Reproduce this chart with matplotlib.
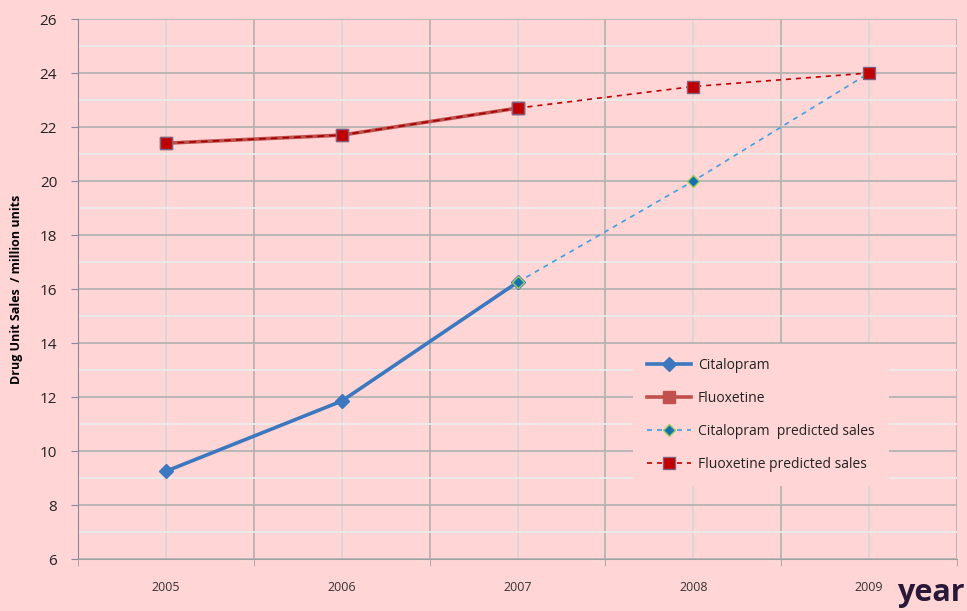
import numpy as np
import matplotlib
matplotlib.use("Agg")
import matplotlib.pyplot as plt
from matplotlib.ticker import MultipleLocator

plt.rcParams['font.family'] = ['Open Sans', 'DejaVu Sans']

years = ['2005', '2006', '2007', '2008', '2009']
citalopram = [9.25, 11.85, 16.25]
fluoxetine = [21.4, 21.7, 22.7]
citalopram_pred = [16.25, 20.0, 24.0]
fluoxetine_pred = [22.7, 23.5, 24.0]

bg = '#ffd5d5'
x = np.arange(len(years))

fig = plt.figure(figsize=(9.67, 6.11), dpi=100, facecolor=bg)
ax = fig.add_axes([0.0807, 0.0851, 0.909, 0.8838], facecolor=bg)

# gridlines: lighter on odd / centre lines, darker on the major ones
ax.set_xlim(-0.5, 4.5)
ax.set_ylim(6, 26)
ax.set_xticks(x)
ax.set_xticklabels(years, fontsize=9, color='#333333')
ax.xaxis.set_minor_locator(MultipleLocator(1, offset=0.5))
ax.yaxis.set_major_locator(MultipleLocator(2))
ax.yaxis.set_minor_locator(MultipleLocator(1))
ax.grid(True, which='major', axis='x', color='#d8d8d8', lw=1.3)
ax.grid(True, which='minor', axis='x', color='#b4b4b4', lw=1.3)
ax.grid(True, which='major', axis='y', color='#b4b4b4', lw=1.3)
ax.grid(True, which='minor', axis='y', color='#ececec', lw=1.3)
ax.set_axisbelow(True)

ax.tick_params(axis='x', which='major', length=0, pad=16)
ax.tick_params(axis='x', which='minor', length=5, color='#a0a0a0')
ax.tick_params(axis='y', which='major', length=5, color='#8888a0', labelsize=11, labelcolor='#222222', pad=10)
ax.tick_params(axis='y', which='minor', length=0)
for s in ['top', 'right']:
    ax.spines[s].set_visible(False)
ax.spines['left'].set_color('#8888a0')
ax.spines['bottom'].set_color('#a0a0a0')

# actual sales
ax.plot(x[:3], citalopram, color='#3c78c0', lw=2.6, marker='D', ms=7,
        mfc='#3c78c0', mec='#3c78c0', label='Citalopram', zorder=3)
ax.plot(x[:3], fluoxetine, color='#c0504d', lw=2.6, marker='s', ms=9,
        mfc='#c0504d', mec='#c0504d', label='Fluoxetine', zorder=3)
# predicted sales
ax.plot(x[2:], citalopram_pred, color='#3fa0e0', lw=1.2, ls=(0, (3, 3)), marker='D', ms=6,
        mfc='#1570b0', mec='#9acd60', label='Citalopram  predicted sales', zorder=4)
ax.plot(x[:3], fluoxetine, color='#a00000', lw=1.2, ls=(0, (4, 3)), zorder=4)
ax.plot(x[2:], fluoxetine_pred, color='#c00000', lw=1.2, ls=(0, (3, 3)), marker='s', ms=9,
        mfc='#c00000', mec='#806080', label='Fluoxetine predicted sales', zorder=4)
ax.plot(x[:3], fluoxetine, ls='none', marker='s', ms=9, mfc='#c00000', mec='#806080', zorder=5)

ax.set_ylabel('Drug Unit Sales  / million units', fontsize=9, fontweight='bold', labelpad=12)

leg = ax.legend(loc='lower right', bbox_to_anchor=(0.93, 0.122), fontsize=10,
                frameon=True, facecolor=bg, edgecolor='none', framealpha=1,
                handlelength=3.2, handletextpad=0.5, labelspacing=1.3, borderpad=1.0)
for t in leg.get_texts():
    t.set_color('#222222')

fig.text(0.928, 0.005, 'year', fontsize=22, fontweight='bold', color='#2a1838',
         ha='left', va='bottom')

fig.savefig('out.png', dpi=100, facecolor=bg)
